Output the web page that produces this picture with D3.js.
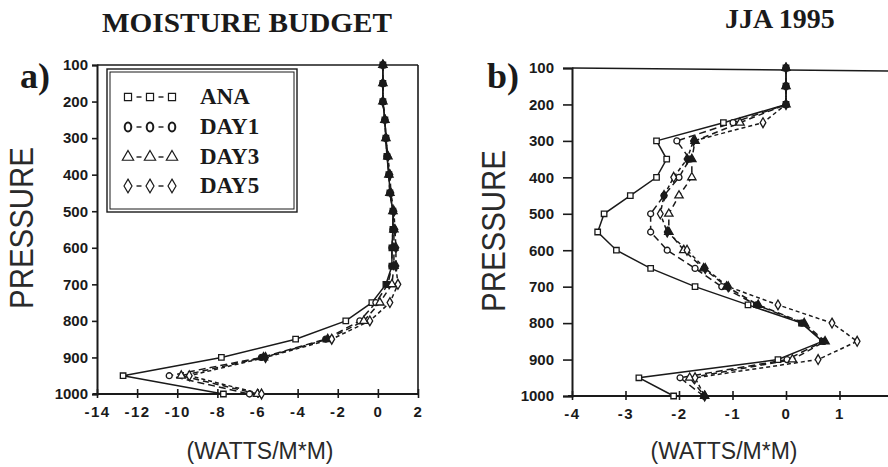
<!DOCTYPE html>
<html>
<head>
<meta charset="utf-8">
<script src="https://cdn.jsdelivr.net/npm/d3@7"></script>
<style>
  html, body { margin: 0; padding: 0; background: #fff; }
  svg { display: block; }
</style>
</head>
<body>
<svg id="chart" width="888" height="467"></svg>
<script>
// ---------------- DATA ----------------
const pressure = [100,150,200,250,300,350,400,450,500,550,600,650,700,750,800,850,900,950,1000];
const seriesNames = ["ANA","DAY1","DAY3","DAY5"];

// Panel a) (full range)
const aANA  = [0.25,0.25,0.25,0.35,0.4,0.45,0.55,0.6,0.75,0.75,0.7,0.7,0.4,-0.3,-1.6,-4.1,-7.8,-12.7,-7.7];
const aDAY1 = [0.25,0.25,0.25,0.35,0.4,0.45,0.55,0.6,0.75,0.75,0.7,0.7,0.5,-0.1,-0.9,-2.6,-5.8,-10.4,-6.4];
const aDAY3 = [0.25,0.25,0.25,0.35,0.4,0.5,0.55,0.6,0.75,0.8,0.8,0.8,0.7,0.1,-0.7,-2.5,-5.7,-9.8,-6.0];
const aDAY5 = [0.25,0.25,0.25,0.35,0.4,0.5,0.6,0.65,0.8,0.85,0.9,0.9,1.0,0.6,-0.4,-2.3,-5.6,-9.4,-5.8];

// Panel b)
const bANA  = [0,0,0,-1.17,-2.42,-2.23,-2.42,-2.91,-3.4,-3.52,-3.17,-2.53,-1.7,-0.71,0.29,0.68,-0.15,-2.75,-2.1];
const bDAY1 = [0,0,0,-0.99,-2.04,-1.8,-2.0,-2.28,-2.53,-2.53,-2.22,-1.7,-1.2,-0.55,0.3,0.7,0.02,-1.98,-1.54];
const bDAY3 = [0,0,0,-0.86,-1.7,-1.76,-1.76,-2.0,-2.19,-2.19,-1.91,-1.54,-1.11,-0.52,0.34,0.73,0.12,-1.8,-1.52];
const bDAY5 = [0,0,0,-0.43,-1.73,-1.85,-2.1,-2.28,-2.35,-2.22,-1.85,-1.51,-1.08,-0.15,0.86,1.33,0.6,-1.7,-1.52];

const yTicks  = [100,200,300,400,500,600,700,800,900,1000];
const xTicksA = [-14,-12,-10,-8,-6,-4,-2,0,2];
const xTicksB = [-4,-3,-2,-1,0,1,2];

const titleText  = "MOISTURE BUDGET";
const seasonText = "JJA 1995";
const yLabel = "PRESSURE";
const xLabel = "(WATTS/M*M)";

// ---------------- STYLE ----------------
const ink = "#1a1a1a";
const symbolTypes = [d3.symbolSquare, d3.symbolCircle, d3.symbolTriangle, d3.symbolDiamond];
const symbolSizes = [30, 28, 30, 28];
const dashes = [null, "7,4", "6,4", "4,3"];

const svg = d3.select("#chart");

function panel(cfg) {
  const g = svg.append("g");
  const x = d3.scaleLinear().domain(cfg.xDomain).range(cfg.xRange);
  const y = d3.scaleLinear().domain([100,1000]).range(cfg.yRange);

  // frame: top & right
  g.append("line").attr("x1", x(cfg.xDomain[0])).attr("x2", cfg.frameRight)
    .attr("y1", y(100)).attr("y2", y(100) + (cfg.topTilt||0))
    .attr("stroke", ink).attr("stroke-width", 1.6);
  if (cfg.drawRight) {
    g.append("line").attr("x1", cfg.frameRight).attr("x2", cfg.frameRight)
      .attr("y1", y(100)).attr("y2", y(1000))
      .attr("stroke", ink).attr("stroke-width", 1.6);
  }

  // y axis
  const ya = g.append("g").attr("transform", `translate(${x(cfg.xDomain[0])},0)`)
    .call(d3.axisLeft(y).tickValues(yTicks).tickFormat(d3.format("d"))
      .tickSize(cfg.yTickSize).tickPadding(cfg.yTickPad));
  ya.select(".domain").attr("stroke", ink).attr("stroke-width", 2);
  ya.selectAll(".tick line").attr("stroke", ink).attr("stroke-width", 1.6);
  ya.selectAll(".tick text").attr("fill", ink)
    .style("font-family", "'Liberation Sans', Arial, sans-serif")
    .style("font-weight", "bold").style("font-size", "15px");

  // x axis
  const xa = g.append("g").attr("transform", `translate(0,${y(1000)})`)
    .call(d3.axisBottom(x).tickValues(cfg.xTicks).tickSize(5).tickPadding(7)
      .tickFormat(d => d < 0 ? "-" + Math.abs(d) : String(d)));
  xa.select(".domain").attr("stroke", ink).attr("stroke-width", 2)
    .attr("d", `M${x(cfg.xDomain[0]) - 4},0H${cfg.axisRight}`);
  xa.selectAll(".tick line").attr("stroke", ink).attr("stroke-width", 1.6)
    .attr("y1", -5).attr("y2", 4);
  xa.selectAll(".tick text").attr("fill", ink)
    .style("font-family", "'Liberation Sans', Arial, sans-serif")
    .style("font-weight", "bold").style("font-size", "15px")
    .style("letter-spacing", "1.5px");

  // lines
  const line = d3.line().x(d => x(d.v)).y(d => y(d.p));
  cfg.series.forEach((vals, i) => {
    const pts = pressure.map((p, k) => ({p, v: vals[k]}));
    g.append("path").datum(pts).attr("d", line)
      .attr("fill", "none").attr("stroke", ink).attr("stroke-width", 1.5)
      .attr("stroke-dasharray", dashes[i]);
  });
  // markers (filled black where symbols of different series overlap)
  cfg.series.forEach((vals, i) => {
    const pts = pressure.map((p, k) => ({p, v: vals[k], k}));
    g.selectAll(null).data(pts).enter().append("path")
      .attr("d", d3.symbol().type(symbolTypes[i]).size(symbolSizes[i]))
      .attr("transform", d => `translate(${x(d.v)},${y(d.p)})`)
      .attr("fill", d => {
        const px = x(d.v);
        const overlap = cfg.series.some((o, j) => j !== i && Math.abs(x(o[d.k]) - px) < 3);
        return overlap ? ink : "#fff";
      })
      .attr("stroke", ink).attr("stroke-width", 1.3);
  });

  // labels
  svg.append("text").text(cfg.tag).attr("x", cfg.tagX).attr("y", 88)
    .style("font-family", "'Liberation Serif', 'Times New Roman', serif")
    .style("font-weight", "bold").style("font-size", "36px").attr("fill", ink);

  svg.append("text").text(yLabel)
    .attr("transform", `translate(${cfg.yLabX},${cfg.yLabY}) rotate(-90)`)
    .attr("text-anchor", "middle")
    .attr("textLength", 162).attr("lengthAdjust", "spacingAndGlyphs")
    .style("font-family", "'Liberation Sans', Arial, sans-serif")
    .style("font-size", "33px").attr("fill", "#2a2a2a");

  svg.append("text").text(xLabel)
    .attr("x", cfg.xLabX).attr("y", 459).attr("text-anchor", "middle")
    .style("font-family", "'Liberation Sans', Arial, sans-serif")
    .style("font-size", "23px").attr("fill", "#2a2a2a");
  return {x, y, g};
}

panel({
  xDomain: [-14, 2], xRange: [97, 418], yRange: [65, 394],
  frameRight: 418, axisRight: 418, drawRight: true,
  yTickSize: 5, yTickPad: 4,
  xTicks: xTicksA,
  series: [aANA, aDAY1, aDAY3, aDAY5],
  tag: "a)", tagX: 20, yLabX: 33, yLabY: 228, xLabX: 260
});

panel({
  xDomain: [-4, 2], xRange: [572, 893], yRange: [68, 396],
  frameRight: 893, axisRight: 893, drawRight: false, topTilt: 3,
  yTickSize: 9, yTickPad: 9,
  xTicks: xTicksB,
  series: [bANA, bDAY1, bDAY3, bDAY5],
  tag: "b)", tagX: 487, yLabX: 505, yLabY: 231, xLabX: 724
});

// Titles
svg.append("text").text(titleText).attr("x", 102).attr("y", 32)
  .attr("textLength", 290).attr("lengthAdjust", "spacingAndGlyphs")
  .style("font-family", "'Liberation Serif', 'Times New Roman', serif")
  .style("font-weight", "bold").style("font-size", "27px").attr("fill", ink);
svg.append("text").text(seasonText).attr("x", 725).attr("y", 28)
  .style("font-family", "'Liberation Serif', 'Times New Roman', serif")
  .style("font-weight", "bold").style("font-size", "28px").attr("fill", ink);

// Legend (panel a)
const lg = svg.append("g");
lg.append("rect").attr("x", 107).attr("y", 69).attr("width", 190).attr("height", 143)
  .attr("fill", "#fff").attr("stroke", ink).attr("stroke-width", 1.4);
lg.append("rect").attr("x", 110).attr("y", 72).attr("width", 184).attr("height", 137)
  .attr("fill", "none").attr("stroke", ink).attr("stroke-width", 1);
const legY = [97, 127, 157, 186];
seriesNames.forEach((name, i) => {
  const cy = legY[i];
  const xs = [128, 150, 172];
  [139, 161].forEach(dx => {
    lg.append("line").attr("x1", dx - 2.5).attr("x2", dx + 2.5).attr("y1", cy).attr("y2", cy)
      .attr("stroke", ink).attr("stroke-width", 1.4);
  });
  xs.forEach(sx => {
    if (i === 1) {
      lg.append("ellipse").attr("cx", sx).attr("cy", cy).attr("rx", 3.3).attr("ry", 4.5)
        .attr("fill", "none").attr("stroke", ink).attr("stroke-width", 2);
    } else {
      lg.append("path").attr("d", d3.symbol().type(symbolTypes[i]).size(i === 0 ? 50 : 55)())
        .attr("transform", `translate(${sx},${cy})`)
        .attr("fill", "none").attr("stroke", ink).attr("stroke-width", 1.2);
    }
  });
  lg.append("text").text(name).attr("x", 200).attr("y", cy + 7)
    .style("font-family", "'Liberation Serif', 'Times New Roman', serif")
    .style("font-weight", "bold").style("font-size", "23px").attr("fill", ink);
});
</script>
</body>
</html>
